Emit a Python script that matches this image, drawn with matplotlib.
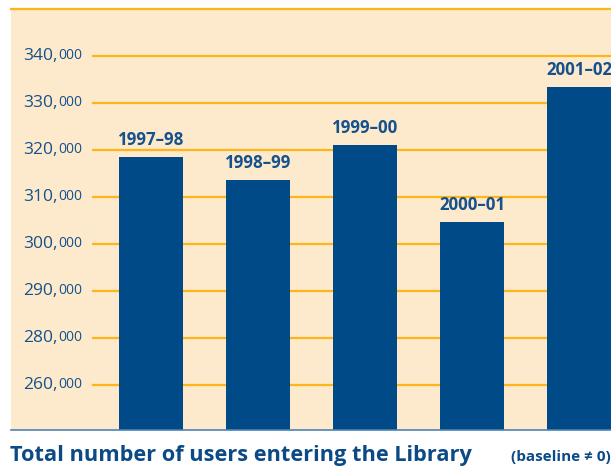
import matplotlib
matplotlib.use("Agg")
import matplotlib.pyplot as plt
from matplotlib.transforms import blended_transform_factory

# data
years = ['1997\u201398', '1998\u201399', '1999\u201300', '2000\u201301', '2001\u201302']
users = [318600, 313600, 321100, 304700, 333400]
grid_vals = [270000, 280000, 290000, 300000, 310000, 320000, 330000, 340000]
grid_labels = ['260,', '280,', '290,', '300,', '310,', '320,', '330,', '340,']

bg = '#FDEACC'
bar_col = '#004A87'
grid_col = '#FDB51A'
txt_col = '#15518C'

plt.rcParams['font.family'] = ['Open Sans', 'DejaVu Sans']

fig = plt.figure(figsize=(6.11, 4.69), dpi=100)
W, H = 611, 469
ax = fig.add_axes([11 / W, (H - 430) / H, 600 / W, 421 / H])
ax.set_facecolor(bg)

x = list(range(len(years)))
ax.set_xlim(-1.308, 4.299)
ax.set_ylim(260400, 350000)

for g in grid_vals:
    ax.axhline(g, xmin=82 / 600, xmax=1, color=grid_col, lw=1.6, zorder=1)

bars = ax.bar(x, users, width=0.598, color=bar_col, zorder=2)
for xi, v, lab in zip(x, users, years):
    ax.annotate(lab, (xi, v), xytext=(0, 5.5), textcoords='offset points',
                ha='center', va='bottom', fontsize=12.2, fontweight='bold', color=txt_col)

for s in ['left', 'right']:
    ax.spines[s].set_visible(False)
ax.spines['top'].set_color(grid_col)
ax.spines['top'].set_linewidth(1.6)
ax.spines['bottom'].set_color('#4F82B3')
ax.spines['bottom'].set_linewidth(1.2)
ax.set_xticks([])
ax.set_yticks([])

# tick labels: "340," big + "000" small
trans = blended_transform_factory(fig.transFigure, ax.transData)
fig.canvas.draw()
r = fig.canvas.get_renderer()
for g, lab in zip(grid_vals, grid_labels):
    t0 = fig.text(82 / W, g, '000', transform=trans, ha='right', va='center',
                  fontsize=10, color=txt_col)
    w = t0.get_window_extent(renderer=r).width
    fig.text((82 - w) / W, g, lab, transform=trans, ha='right', va='center',
             fontsize=12.5, color=txt_col)

fig.text(10 / W, (H - 461) / H, 'Total number of users entering the Library',
         ha='left', va='baseline', fontsize=15.7, fontweight='bold', color='#0B4A86')
fig.text(611 / W, (H - 461) / H, '(baseline \u2260 0)',
         ha='right', va='baseline', fontsize=11, fontweight='bold', color='#0B4A86')

fig.savefig('out.png', dpi=100, facecolor='white')
